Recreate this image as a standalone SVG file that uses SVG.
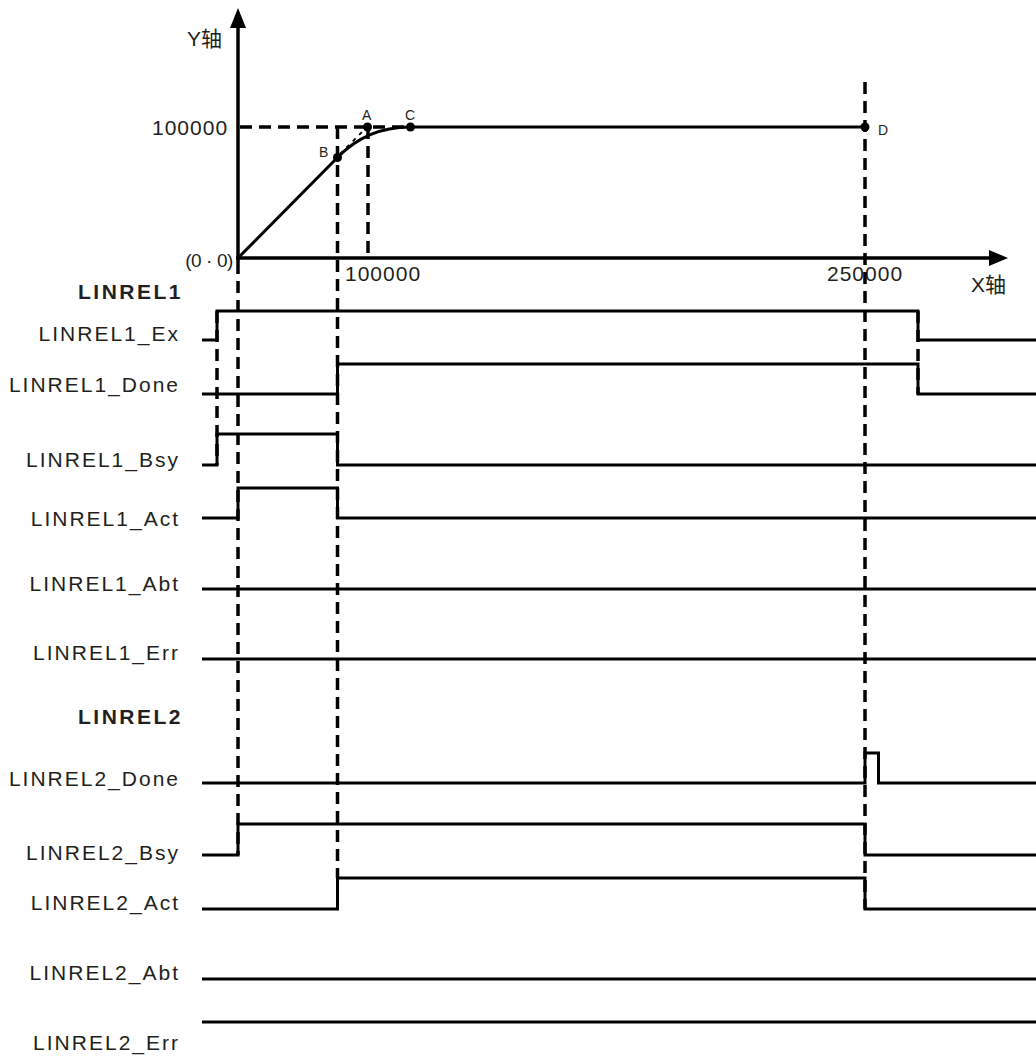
<svg xmlns="http://www.w3.org/2000/svg" width="1036" height="1057" viewBox="0 0 1036 1057">
<style>
text{font-family:"Liberation Sans",Arial,"Noto Sans CJK SC",sans-serif;fill:#231f20}
.lbl{font-size:21px;letter-spacing:2px;text-anchor:end}
.bold{font-size:21px;font-weight:bold;letter-spacing:2.5px;text-anchor:end}
.ax{font-size:21px;letter-spacing:1px}
.pt{font-size:14px}
.sig{fill:none;stroke:#000;stroke-width:3;stroke-linejoin:miter}
.dash{fill:none;stroke:#000;stroke-width:3.5;stroke-dasharray:12 7}
.axis{fill:none;stroke:#000;stroke-width:3.5}
</style>
<rect width="1036" height="1057" fill="#fff"/>
<g id="axes">
<line class="axis" x1="238" y1="262" x2="238" y2="24"/>
<polygon points="238,8 230,28 246,28" fill="#000"/>
<line class="axis" x1="236" y1="258" x2="992" y2="258"/>
<polygon points="1008,258 989,250 989,266" fill="#000"/>
<text class="ax" x="187" y="46" style="letter-spacing:0">Y轴</text>
<text class="ax" x="971" y="292" style="letter-spacing:0">X轴</text>
<text class="ax" x="152" y="135">100000</text>
<text class="ax" x="345" y="281">100000</text>
<text class="ax" x="827" y="281">250000</text>
<text class="ax" x="233" y="267" style="font-size:19px;letter-spacing:-0.4px;text-anchor:end">(0 · 0)</text>
</g>
<g id="connectors">
<line class="dash" x1="240" y1="127" x2="405" y2="127"/>
<line class="dash" x1="368" y1="127" x2="368" y2="258"/>
<line class="dash" x1="337.5" y1="127" x2="337.5" y2="878"/>
<line class="dash" x1="238" y1="262" x2="238" y2="855"/>
<line class="dash" x1="217" y1="311" x2="217" y2="465"/>
<line class="dash" x1="865" y1="82" x2="865" y2="909"/>
<line class="dash" x1="918" y1="311" x2="918" y2="394"/>
<line x1="340" y1="154" x2="366" y2="128" stroke="#000" stroke-width="1.8" stroke-dasharray="4 5"/>
</g>
<g id="curve">
<path class="sig" d="M238,258 L337.5,157.5 Q367,127 410,127 H865" stroke-width="2.8"/>
</g>
<g id="point-A"><circle cx="367.5" cy="127" r="4.5" fill="#000"/><text class="pt" x="362" y="120">A</text></g>
<g id="point-B"><circle cx="337.5" cy="157.5" r="4.5" fill="#000"/><text class="pt" x="319" y="157">B</text></g>
<g id="point-C"><circle cx="410.5" cy="127" r="4.5" fill="#000"/><text class="pt" x="405" y="120">C</text></g>
<g id="point-D"><circle cx="865" cy="127" r="4.5" fill="#000"/><text class="pt" x="878" y="135">D</text></g>
<g id="labels">
<text class="bold" x="183" y="299">LINREL1</text>
<text class="lbl" x="180" y="341">LINREL1_Ex</text>
<text class="lbl" x="180" y="392">LINREL1_Done</text>
<text class="lbl" x="180" y="467">LINREL1_Bsy</text>
<text class="lbl" x="180" y="526">LINREL1_Act</text>
<text class="lbl" x="180" y="591">LINREL1_Abt</text>
<text class="lbl" x="180" y="660">LINREL1_Err</text>
<text class="bold" x="183" y="724">LINREL2</text>
<text class="lbl" x="180" y="786">LINREL2_Done</text>
<text class="lbl" x="180" y="860">LINREL2_Bsy</text>
<text class="lbl" x="180" y="910">LINREL2_Act</text>
<text class="lbl" x="180" y="980">LINREL2_Abt</text>
<text class="lbl" x="180" y="1050">LINREL2_Err</text>
</g>
<g id="signal-LINREL1_Ex"><path class="sig" d="M202,340 H217 V311 H918 V340 H1036"/></g>
<g id="signal-LINREL1_Done"><path class="sig" d="M202,394 H337.5 V364 H918 V394 H1036"/></g>
<g id="signal-LINREL1_Bsy"><path class="sig" d="M202,465 H217 V434 H337.5 V465 H1036"/></g>
<g id="signal-LINREL1_Act"><path class="sig" d="M202,518 H238 V488 H337.5 V518 H1036"/></g>
<g id="signal-LINREL1_Abt"><path class="sig" d="M202,589 H1036"/></g>
<g id="signal-LINREL1_Err"><path class="sig" d="M202,659 H1036"/></g>
<g id="signal-LINREL2_Done"><path class="sig" d="M202,783 H865 V753 H878.5 V783 H1036"/></g>
<g id="signal-LINREL2_Bsy"><path class="sig" d="M202,855 H238 V824 H865 V855 H1036"/></g>
<g id="signal-LINREL2_Act"><path class="sig" d="M202,909 H337.5 V878 H865 V909 H1036"/></g>
<g id="signal-LINREL2_Abt"><path class="sig" d="M202,979 H1036"/></g>
<g id="signal-LINREL2_Err"><path class="sig" d="M202,1022 H1036"/></g>
</svg>
